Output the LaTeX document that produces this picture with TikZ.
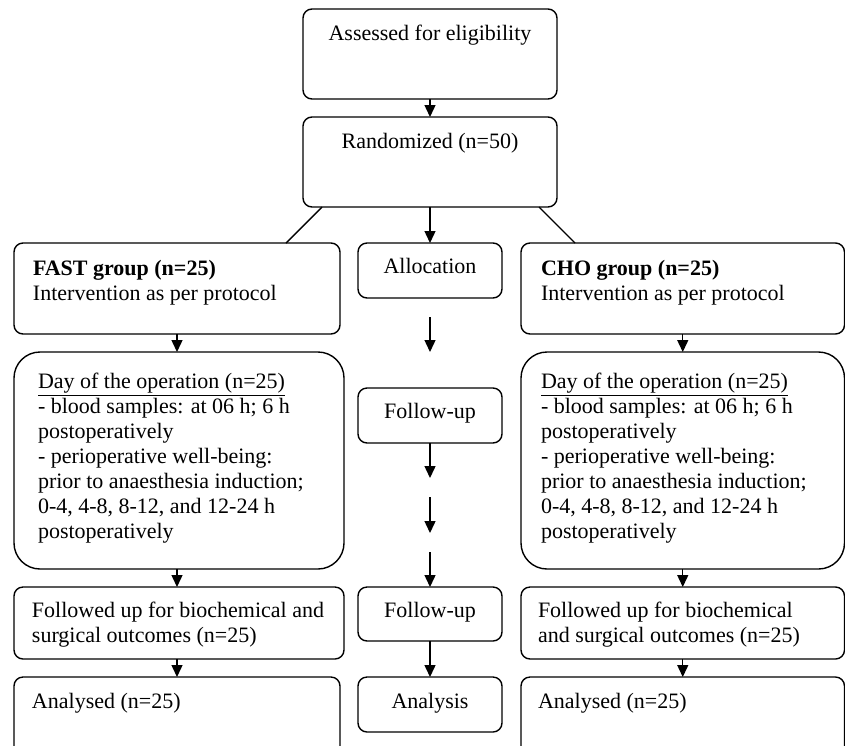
\documentclass[tikz,border=0pt]{standalone}
\usepackage{fontspec}
\setmainfont{Liberation Serif}
\usetikzlibrary{arrows.meta,calc}
\tikzset{
  bx/.style={draw, line width=0.7pt, rounded corners=4.5pt, inner sep=0pt, outer sep=0pt, anchor=north west},
  bigbx/.style={bx, rounded corners=13pt},
  arr/.style={line width=0.7pt, -{Triangle[length=6pt,width=5.5pt]}},
  ln/.style={line width=0.7pt},
}
% #1 width, #2 height, #3 left pad, #4 first baseline, #5 text
\newcommand{\ltxt}[5]{\parbox[t][#2][t]{#1}{\fontsize{11pt}{12.5pt}\selectfont\raggedright\leftskip=#3\relax\parindent=0pt\rule{0pt}{#4}#5}}
% #1 width, #2 height, #3 first baseline, #4 text
\newcommand{\ctxt}[4]{\parbox[t][#2][t]{#1}{\fontsize{11pt}{12.5pt}\selectfont\centering\rule{0pt}{#3}#4}}
\begin{document}
\begin{tikzpicture}[x=0.5pt,y=-0.5pt]
\clip (0,0) rectangle (845,745);
% top
\node[bx] (assess) at (303,9) {\ctxt{127pt}{45pt}{15.5pt}{Assessed for eligibility}};
\node[bx] (rand) at (303,117) {\ctxt{127pt}{45pt}{15.5pt}{Randomized (n=50)}};
% left column
\node[bx] (fast) at (14,243) {\ltxt{163pt}{45.5pt}{9.5pt}{16pt}{\textbf{FAST group (n=25)}\\Intervention as per protocol}};
\node[bigbx] (dayl) at (14,352) {\ltxt{165pt}{108.5pt}{12pt}{18pt}{\underline{Day of the operation (n=25)}\\- blood samples: at 06 h; 6 h\\postoperatively\\- perioperative well-being:\\prior to anaesthesia induction;\\0-4, 4-8, 8-12, and 12-24 h\\postoperatively}};
\node[bx] (folll) at (14,587) {\ltxt{165pt}{36pt}{9pt}{15pt}{Followed up for biochemical and\\surgical outcomes (n=25)}};
\node[bx] (anl) at (14,677) {\ltxt{163pt}{50pt}{9pt}{15.5pt}{Analysed (n=25)}};
% middle column
\node[bx] (alloc) at (358,243) {\ctxt{72pt}{27.5pt}{15pt}{Allocation}};
\node[bx] (fu1) at (358,388) {\ctxt{72pt}{27.5pt}{15pt}{Follow-up}};
\node[bx] (fu2) at (358,587) {\ctxt{72pt}{27pt}{15pt}{Follow-up}};
\node[bx] (ana) at (358,677) {\ctxt{72pt}{27.5pt}{15.5pt}{Analysis}};
% right column
\node[bx] (cho) at (521,243) {\ltxt{161.75pt}{45.5pt}{10pt}{16pt}{\textbf{CHO group (n=25)}\\Intervention as per protocol}};
\node[bigbx] (dayr) at (521,352) {\ltxt{161.75pt}{108.5pt}{10pt}{18pt}{\underline{Day of the operation (n=25)}\\- blood samples: at 06 h; 6 h\\postoperatively\\- perioperative well-being:\\prior to anaesthesia induction;\\0-4, 4-8, 8-12, and 12-24 h\\postoperatively}};
\node[bx] (follr) at (521,587) {\ltxt{161.75pt}{36pt}{8.5pt}{15pt}{Followed up for biochemical\\and surgical outcomes (n=25)}};
\node[bx] (anr) at (521,677) {\ltxt{161.75pt}{50pt}{8.5pt}{15.5pt}{Analysed (n=25)}};
% free coordinates in the middle column
\coordinate (m1) at (430,317);
\coordinate (m2) at (430,352);
\coordinate (m3) at (430,478);
\coordinate (m4) at (430,497);
\coordinate (m5) at (430,533);
\coordinate (m6) at (430,552);
% connectors
\draw[arr] (assess.south) -- (rand.north);
\draw[arr] (rand.south) -- (alloc.north);
\draw[ln] ($(rand.south west)+(19,0)$) -- ($(fast.north east)+(-54,0)$);
\draw[ln] ($(rand.south east)+(-18,0)$) -- ($(cho.north west)+(54,0)$);
\draw[arr] (fast.south) -- (fast.south |- dayl.north);
\draw[arr] (fast.south |- dayl.south) -- (fast.south |- folll.north);
\draw[arr] (fast.south |- folll.south) -- (fast.south |- anl.north);
\draw[arr] (cho.south) -- (cho.south |- dayr.north);
\draw[arr] (cho.south |- dayr.south) -- (cho.south |- follr.north);
\draw[arr] (cho.south |- follr.south) -- (cho.south |- anr.north);
\draw[arr] (m1) -- (m2);
\draw[arr] (fu1.south) -- (m3);
\draw[arr] (m4) -- (m5);
\draw[arr] (m6) -- (fu2.north);
\draw[arr] (fu2.south) -- (ana.north);
\end{tikzpicture}
\end{document}
